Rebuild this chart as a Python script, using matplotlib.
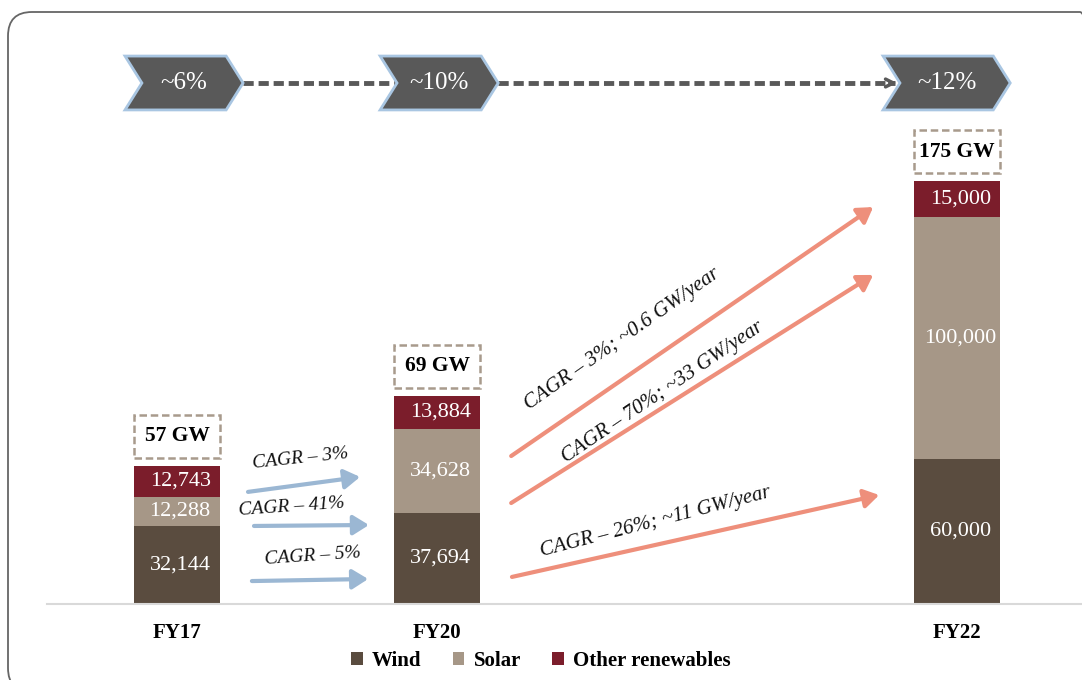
import matplotlib
matplotlib.use('Agg')
import matplotlib.pyplot as plt
from matplotlib.patches import Polygon, Rectangle, FancyBboxPatch, Patch
from matplotlib.transforms import IdentityTransform

# ---------------- data ----------------
categories = ['FY17', 'FY20', 'FY22']
x_pos = [0, 1, 3]
wind = [32144, 37694, 60000]
solar = [12288, 34628, 100000]
other = [12743, 13884, 15000]
total_labels = ['57 GW', '69 GW', '175 GW']
share_labels = ['~6%', '~10%', '~12%']
series_names = ['Wind', 'Solar', 'Other renewables']

# growth annotations (data units)
blue_labels = ['CAGR – 3%', 'CAGR – 41%', 'CAGR – 5%']
blue_arrows = [((0.273, 46400), (0.704, 52600)),
               ((0.296, 32300), (0.738, 32700)),
               ((0.288, 9500), (0.735, 10350))]
blue_text_pos = [(0.473, 60200), (0.442, 40300), (0.523, 19900)]
blue_rot = [6, 4, 4]

orange_labels = ['CAGR – 3%; ~0.6 GW/year', 'CAGR – 70%; ~33 GW/year',
                 'CAGR – 26%; ~11 GW/year']
orange_arrows = [((1.285, 61250), (2.677, 164300)),
                 ((1.285, 41800), (2.677, 136200)),
                 ((1.288, 11200), (2.700, 45100))]
orange_text_pos = [(1.712, 109800), (1.869, 87700), (1.842, 33800)]
orange_rot = [35, 34, 14.5]

# chevron offsets relative to bar centre (left edge, tip)
chev_left = [-0.200, -0.219, -0.285]
chev_tip = [0.254, 0.235, 0.204]

# ---------------- style ----------------
colors = ['#5A4C3F', '#A69787', '#7B1D2B']
blue = '#9BB7D3'
orange = '#EE8F7B'
dark = '#595959'
serif = ['Liberation Serif', 'DejaVu Serif']

fig = plt.figure(figsize=(10.82, 6.8), dpi=100)
ax = fig.add_axes([47 / 1082, 76 / 680, 1035 / 1082, 604 / 680])
ax.set_xlim(-0.5, 3.48)
ax.set_ylim(0, 250000)

bw = 0.33
bottoms = [0, 0, 0]
for vals, col in zip([wind, solar, other], colors):
    ax.bar(x_pos, vals, bw, bottom=bottoms, color=col, edgecolor='none', zorder=2)
    for x, v, b in zip(x_pos, vals, bottoms):
        ax.text(x + 0.012, b + v / 2, f'{v:,}', ha='center', va='center',
                color='white', fontsize=16, family=serif, zorder=3)
    bottoms = [b + v for b, v in zip(bottoms, vals)]

# total boxes
gap, bh = 3400, 17600
for x, tot, lab in zip(x_pos, bottoms, total_labels):
    ax.add_patch(Rectangle((x - bw / 2, tot + gap), bw, bh, fill=False,
                           edgecolor='#A89A8C', lw=1.8, linestyle=(0, (3, 1.5)),
                           zorder=3))
    ax.text(x, tot + gap + bh / 2, lab, ha='center', va='center',
            fontsize=15.5, fontweight='bold', family=serif, color='black', zorder=4)

# chevrons
ctop, cbot = 226800, 204500
cmid = (ctop + cbot) / 2
depth = 0.065
notches, rights = [], []
for x, l, t, lab in zip(x_pos, chev_left, chev_tip, share_labels):
    L, T = x + l, x + t
    N, R = L + depth, T - depth
    notches.append(N)
    rights.append(T)
    poly = Polygon([(L, ctop), (R, ctop), (T, cmid), (R, cbot), (L, cbot), (N, cmid)],
                   closed=True, facecolor=dark, edgecolor='#A9C6E2', lw=2,
                   zorder=4, clip_on=False)
    ax.add_patch(poly)
    ax.text((N + R) / 2, cmid, lab, ha='center', va='center', color='white',
            fontsize=18, family=serif, zorder=5)

# dashed connectors
ax.plot([rights[0], notches[1]], [cmid, cmid], color=dark, lw=3.5,
        linestyle=(0, (2.1, 1.0)), zorder=3, solid_capstyle='butt')
ax.plot([rights[1], notches[2] - 0.02], [cmid, cmid], color=dark, lw=3.5,
        linestyle=(0, (2.1, 1.0)), zorder=3)
ax.annotate('', xy=(notches[2], cmid), xytext=(notches[2] - 0.05, cmid),
            arrowprops=dict(arrowstyle='->', color=dark, lw=2.5,
                            mutation_scale=14), zorder=3)

# growth arrows
for (s, e), lab, tp, r in zip(blue_arrows, blue_labels, blue_text_pos, blue_rot):
    ax.annotate('', xy=e, xytext=s,
                arrowprops=dict(arrowstyle='-|>,head_length=0.45,head_width=0.28',
                                color=blue, lw=3, mutation_scale=21,
                                shrinkA=0, shrinkB=0))
    ax.text(tp[0], tp[1], lab, ha='center', va='center', rotation=r,
            rotation_mode='anchor', fontsize=14, style='italic', family=serif,
            color='#111111')

for (s, e), lab, tp, r in zip(orange_arrows, orange_labels, orange_text_pos, orange_rot):
    ax.annotate('', xy=e, xytext=s,
                arrowprops=dict(arrowstyle='-|>,head_length=0.45,head_width=0.28',
                                color=orange, lw=3, mutation_scale=20,
                                shrinkA=0, shrinkB=0))
    ax.text(tp[0], tp[1], lab, ha='center', va='center', rotation=r,
            rotation_mode='anchor', fontsize=15, style='italic', family=serif,
            color='#111111')

# axes styling
for sp in ['top', 'right', 'left']:
    ax.spines[sp].set_visible(False)
ax.spines['bottom'].set_color('#D9D9D9')
ax.spines['bottom'].set_linewidth(1.5)
ax.set_yticks([])
ax.set_xticks(x_pos)
ax.set_xticklabels(categories, fontsize=15, fontweight='bold', family=serif)
ax.tick_params(axis='x', length=0, pad=14)

# legend
handles = [Patch(facecolor=c, edgecolor='none') for c in colors]
fig.legend(handles, series_names, loc='center', bbox_to_anchor=(0.5, 0.028),
           ncol=3, frameon=False, handlelength=0.55, handleheight=0.55,
           handletextpad=0.45, columnspacing=1.5,
           prop=dict(family=serif, weight='bold', size=15))

# rounded outer border
border = FancyBboxPatch((8, -12), 1096, 680, boxstyle='round,pad=0,rounding_size=24',
                        transform=IdentityTransform(), fill=False,
                        edgecolor='#666666', lw=1.3, clip_on=False)
fig.add_artist(border)

fig.savefig('out.png', dpi=100)
